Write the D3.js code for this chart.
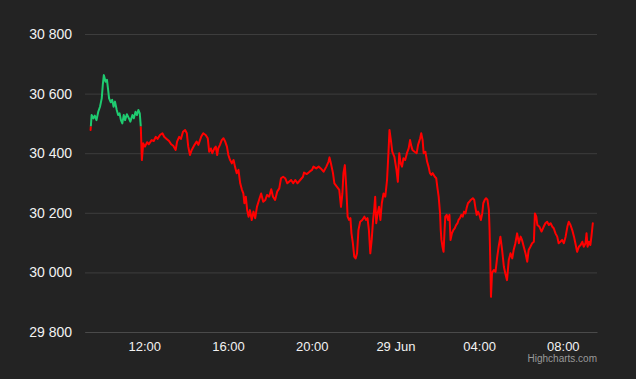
<!DOCTYPE html>
<html>
<head>
<meta charset="utf-8">
<script src="https://cdn.jsdelivr.net/npm/d3@7"></script>
<style>
  html, body { margin: 0; padding: 0; background: #232323; }
  svg { display: block; }
</style>
</head>
<body>
<div id="chart"></div>
<script>
// ---- data (minutes after 28 Jun 00:00, price) ----
const minutes = [566,569,574,578,583,588,593,598,601,604,609,613,617,619,624,628,632,636,641,645,649,653,657,661,665,670,676,680,686,690,695,699,703,707,710,
713,717,722,728,733,741,747,753,758,765,772,777,784,791,797,803,810,814,820,825,831,837,
842,846,851,856,864,870,875,883,889,896,902,906,911,915,921,925,929,932,937,942,947,952,957,961,966,971,976,980,985,990,995,1000,1004,1007,1011,1015,1019,1023,1028,1033,1038,1043,1049,1055,1061,1067,1072,1078,1084,1089,1095,1101,1107,1112,1118,1124,1130,1135,1141,1147,
1153,1159,1167,1175,1178,1186,1194,1201,1205,1213,1220,1226,1234,1242,1248,1251,1255,1261,1265,1272,1279,1284,1288,1291,1295,1299,1303,1307,1311,1314,1318,1322,1326,1330,1334,1339,1345,1351,1356,1360,1364,1368,1372,1376,1379,1382,1385,1389,1393,1397,1401,1406,1411,1416,1420,1423,1427,1431,1437,1443,1447,1451,
1455,1459,1463,1468,1473,1478,1482,1486,1489,1495,1501,1505,1511,1514,1518,1521,1526,1531,1535,1539,1543,1547,1553,1557,1560,1564,1568,1570,1572,1575,1578,1581,1583,1587,1591,1595,1598,1602,1606,1610,1614,1618,1621,1625,1629,1633,1637,1641,1644,1648,1652,1656,1662,1666,1669,1673,1677,1681,1685,1689,1692,1696,1700,1704,1708,1710,1712,1714,
1717,1722,1727,1732,1736,1741,1746,1751,1755,1760,1765,1770,1775,1779,1784,1789,1794,1799,1803,1808,1813,1818,1822,1827,1832,1837,1840,1844,1847,1853,1859,1865,1870,1875,1880,1885,1890,1894,1899,1904,1908,1913,1918,1923,1928,1933,1937,1942,1947,1952,1956,1961,1966,1971,1976,1980,1985,1988,1991,1995,1999,2002,2006];

const prices = [30478,30528,30517,30526,30511,30539,30556,30584,30629,30662,30640,30646,30606,30584,30571,30579,30556,30573,30545,30528,30534,30511,30500,30528,30511,30531,30517,30506,30528,30517,30539,30528,30545,30534,30489,
30377,30433,30422,30437,30430,30444,30441,30455,30448,30461,30467,30455,30448,30441,30430,30425,30411,30439,30455,30448,30472,30478,
30467,30422,30394,30411,30428,30439,30428,30455,30467,30461,30450,30405,30416,30400,30416,30422,30394,30416,30428,30444,30450,30439,30422,30394,30377,30366,30377,30355,30333,30344,30299,30277,30265,30232,30254,30209,30187,30209,30176,30204,30182,30220,30243,30265,30237,30243,30260,30254,30279,30254,30243,30271,30282,30316,30321,30316,30299,30304,30310,30299,
30310,30299,30310,30321,30335,30330,30338,30344,30355,30349,30355,30349,30338,30355,30371,30386,30366,30333,30299,30288,30277,30220,30265,30333,30360,30288,30187,30176,30182,30131,30098,30053,30047,30064,30142,30170,30176,30187,30176,30182,30142,30064,30109,30176,30209,30254,30165,30198,30220,30176,30232,30265,30254,30310,30400,30478,30444,30405,30388,30344,30304,30400,
30366,30355,30383,30377,30400,30416,30444,30422,30411,30405,30400,30428,30450,30467,30444,30400,30405,30371,30355,30333,30327,30333,30321,30316,30288,30254,30198,30142,30109,30086,30069,30142,30187,30193,30176,30193,30109,30131,30142,30148,30159,30165,30176,30182,30193,30187,30204,30198,30215,30232,30237,30243,30249,30243,30220,30193,30204,30193,30176,30198,30232,30243,30249,30243,30209,30142,30042,29918,
29998,30008,30002,30053,30086,30120,30075,30019,29997,29974,30042,30064,30047,30075,30098,30131,30098,30120,30109,30086,30064,30036,30075,30086,30098,30103,30198,30187,30159,30153,30137,30153,30165,30170,30159,30165,30153,30148,30131,30120,30098,30103,30109,30098,30120,30153,30170,30159,30142,30120,30098,30069,30086,30092,30103,30086,30098,30131,30086,30103,30092,30120,30165];

const yTicks = [29800, 30000, 30200, 30400, 30600, 30800];
const axisMinutes = [550, 2018];          // x-axis extent (09:10 → 09:38 next day)
const zoneThreshold = 30490;              // above: green, below: red
const upColor = "#1fcb70";
const downColor = "#ff0000";

// ---- layout ----
const W = 636, H = 379;
const margin = { left: 85, right: 39, top: 34, bottom: 47 };
const base = Date.UTC(2023, 5, 28, 0, 0);
const toDate = m => new Date(base + m * 60000);

const data = minutes.map((m, i) => ({ t: toDate(m), v: prices[i] }));

const x = d3.scaleUtc()
  .domain(axisMinutes.map(toDate))
  .range([margin.left, W - margin.right]);
const y = d3.scaleLinear()
  .domain([yTicks[0], yTicks[yTicks.length - 1]])
  .range([H - margin.bottom, margin.top]);

const svg = d3.select("#chart").append("svg")
  .attr("width", W).attr("height", H)
  .style("font-family", "'Liberation Sans', Arial, Helvetica, sans-serif");

svg.append("rect").attr("width", W).attr("height", H).attr("fill", "#232323");

// grid + y labels
const fmt = d3.formatLocale({ decimal: ".", thousands: " ", grouping: [3], currency: ["", ""] }).format(",");
const yAxis = d3.axisLeft(y).tickValues(yTicks).tickFormat(fmt)
  .tickSize(-(W - margin.left - margin.right)).tickPadding(13);
const gy = svg.append("g").attr("transform", `translate(${margin.left},0)`).call(yAxis);
gy.select(".domain").remove();
gy.selectAll(".tick line").attr("stroke", "#3d3d3d").attr("stroke-width", 1);
gy.selectAll(".tick text").attr("fill", "#f2f2f2").attr("font-size", 14);

// x axis labels
const tf = d3.utcFormat("%H:%M"), df = d3.utcFormat("%-d %b");
const xAxis = d3.axisBottom(x).ticks(d3.utcHour.every(4))
  .tickFormat(d => (d.getUTCHours() === 0 ? df(d) : tf(d)))
  .tickSize(0).tickPadding(10);
const gx = svg.append("g").attr("transform", `translate(0,${H - margin.bottom})`).call(xAxis);
gx.select(".domain").attr("stroke", "#4a4a4a");
gx.selectAll(".tick text").attr("fill", "#f2f2f2").attr("font-size", 13);

// zones via clip paths
const yT = y(zoneThreshold);
const defs = svg.append("defs");
defs.append("clipPath").attr("id", "clipUp").append("rect")
  .attr("x", 0).attr("y", 0).attr("width", W).attr("height", yT);
defs.append("clipPath").attr("id", "clipDown").append("rect")
  .attr("x", 0).attr("y", yT).attr("width", W).attr("height", H - yT);

const line = d3.line().x(d => x(d.t)).y(d => y(d.v));
[["clipUp", upColor], ["clipDown", downColor]].forEach(([id, c]) => {
  svg.append("path").datum(data)
    .attr("clip-path", `url(#${id})`)
    .attr("fill", "none").attr("stroke", c).attr("stroke-width", 2)
    .attr("stroke-linejoin", "round").attr("stroke-linecap", "round")
    .attr("d", line);
});

// credits
svg.append("text").attr("x", W - margin.right).attr("y", 362)
  .attr("text-anchor", "end").attr("fill", "#999999").attr("font-size", 10)
  .text("Highcharts.com");
</script>
</body>
</html>
